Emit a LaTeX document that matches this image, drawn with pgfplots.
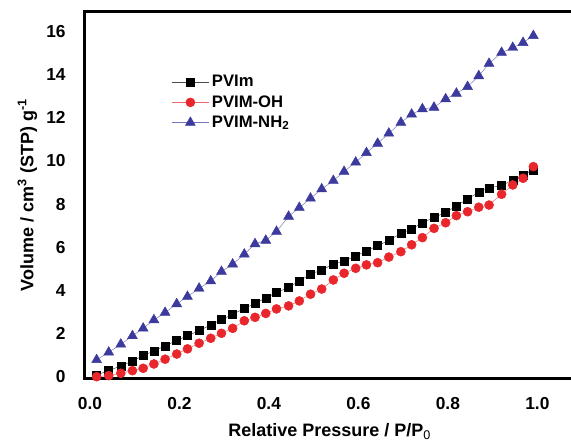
\documentclass[border=0pt]{standalone}
\usepackage{fontspec}
\setmainfont{Liberation Sans}
\usepackage{pgfplots}
\pgfplotsset{compat=1.18}
\definecolor{pvred}{HTML}{E8262B}
\definecolor{pvblue}{HTML}{3C3A9C}
\begin{document}
\begin{tikzpicture}
\begin{axis}[name=ax,
  scale only axis,
  width=367pt, height=274.5pt,
  xmin=-0.011, xmax=1.0826,
  ymin=-0.05, ymax=16.9,
  axis line style={line width=2.25pt},
  major tick length=0pt,
  xtick={0,0.2,0.4,0.6,0.8,1.0},
  xticklabels={0.0,0.2,0.4,0.6,0.8,1.0},
  ytick={0,2,4,6,8,10,12,14,16},
  /pgf/number format/assume math mode=true,
  tick label style={font=\fontsize{13}{15}\selectfont\bfseries},
  xticklabel style={yshift=-11pt},
  yticklabel style={xshift=-11pt},
  xlabel={Relative Pressure / P/P\textsubscript{\mdseries0}},
  ylabel={Volume / cm\textsuperscript{3} (STP) g\textsuperscript{-1}},
  x label style={yshift=-3.5pt},
  label style={font=\fontsize{13.5}{15}\selectfont\bfseries},
  legend cell align=left,
  legend style={draw=none, fill=none, at={(axis description cs:0.168,0.842)}, anchor=north west,
    font=\fontsize{12.5}{14}\selectfont\bfseries, row sep=1pt,
    nodes={inner sep=2pt}},
  legend image code/.code={\draw[mark repeat=2,mark phase=2] plot coordinates {(0pt,0pt) (14pt,0pt) (28pt,0pt)};},
]
\addplot[black!70, line width=0.35pt, mark=square*, mark size=3pt, mark options={black}] coordinates {
(0.015,0.09) (0.042,0.29) (0.069,0.51) (0.095,0.73) (0.119,0.99) (0.143,1.20) (0.168,1.44) (0.194,1.68)
(0.218,1.91) (0.244,2.14) (0.270,2.41) (0.294,2.65) (0.319,2.90) (0.345,3.17) (0.369,3.40) (0.393,3.66)
(0.417,3.90) (0.444,4.16) (0.468,4.43) (0.493,4.77) (0.518,4.95) (0.544,5.22) (0.568,5.37) (0.594,5.60)
(0.618,5.83) (0.643,6.08) (0.668,6.32) (0.695,6.65) (0.719,6.85) (0.743,7.14) (0.769,7.38) (0.795,7.62)
(0.819,7.92) (0.844,8.24) (0.869,8.55) (0.892,8.76) (0.920,8.86) (0.945,9.12) (0.968,9.35) (0.991,9.58)
};
\addlegendentry{PVIm}
\addplot[pvred!70, line width=0.35pt, mark=*, mark size=3.4pt, mark options={pvred}] coordinates {
(0.015,0.01) (0.042,0.06) (0.069,0.17) (0.095,0.29) (0.119,0.40) (0.143,0.60) (0.168,0.82) (0.194,1.06)
(0.218,1.30) (0.244,1.56) (0.270,1.79) (0.294,2.02) (0.319,2.25) (0.345,2.60) (0.369,2.76) (0.393,2.94)
(0.417,3.15) (0.444,3.29) (0.468,3.52) (0.493,3.83) (0.518,4.07) (0.544,4.49) (0.568,4.80) (0.594,5.03)
(0.618,5.19) (0.643,5.29) (0.668,5.55) (0.695,5.80) (0.719,6.12) (0.743,6.45) (0.769,6.88) (0.795,7.14)
(0.819,7.47) (0.844,7.65) (0.869,7.86) (0.892,7.96) (0.920,8.46) (0.945,8.89) (0.968,9.20) (0.991,9.74)
};
\addlegendentry{PVIM-OH}
\addplot[pvblue!70, line width=0.35pt, mark=triangle*, mark size=4.3pt, mark options={pvblue}] coordinates {
(0.015,0.79) (0.042,1.14) (0.069,1.51) (0.095,1.90) (0.119,2.25) (0.143,2.64) (0.168,2.98) (0.194,3.38)
(0.218,3.72) (0.244,4.10) (0.270,4.44) (0.294,4.88) (0.319,5.22) (0.345,5.68) (0.369,6.16) (0.393,6.32)
(0.417,6.73) (0.444,7.43) (0.468,7.84) (0.493,8.27) (0.518,8.70) (0.544,9.09) (0.568,9.51) (0.594,9.94)
(0.618,10.38) (0.643,10.81) (0.668,11.28) (0.695,11.78) (0.719,12.16) (0.743,12.41) (0.769,12.48) (0.795,12.87)
(0.819,13.13) (0.844,13.44) (0.869,13.94) (0.892,14.51) (0.920,15.02) (0.945,15.25) (0.968,15.48) (0.991,15.80)
};
\addlegendentry{PVIM-NH\textsubscript{2}}
\end{axis}
\pgfresetboundingbox
\path[use as bounding box] ([xshift=-63.75pt,yshift=-48.75pt]ax.south west) rectangle ([xshift=364.5pt,yshift=9pt]ax.north west);
\end{tikzpicture}
\end{document}
